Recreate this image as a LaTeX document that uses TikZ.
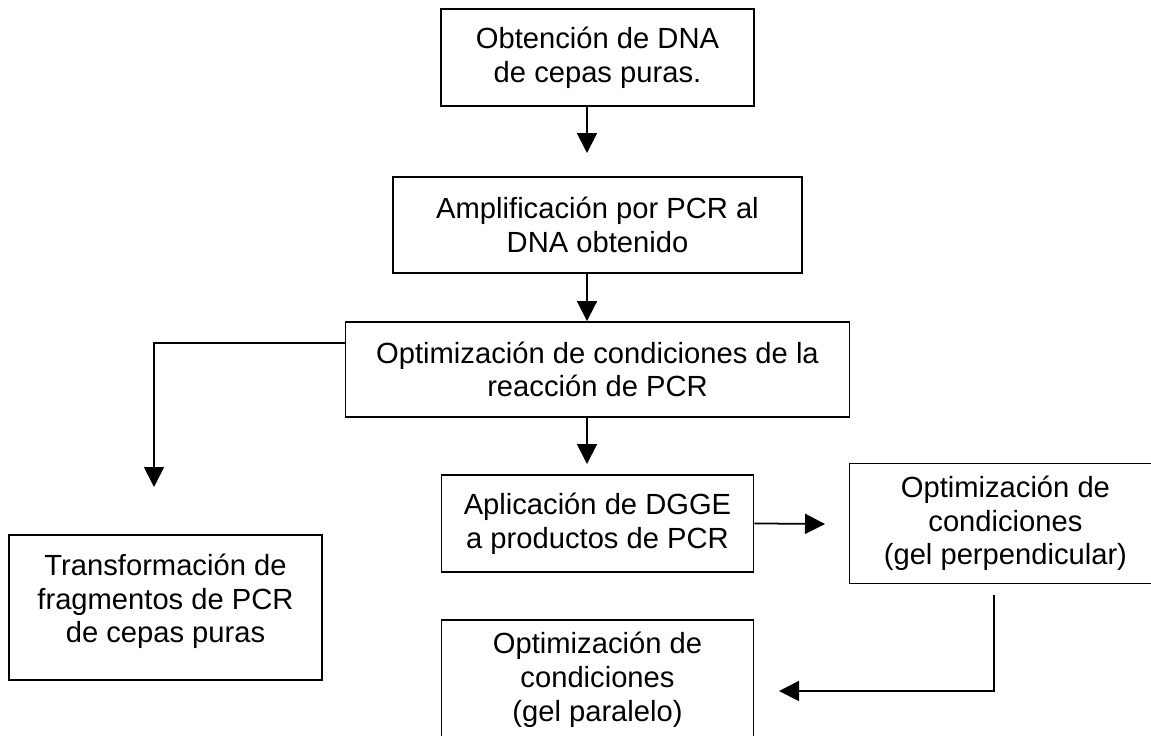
\documentclass[tikz,border=0pt]{standalone}
\usepackage{fontspec}
\setmainfont{Liberation Sans}
\usetikzlibrary{positioning,arrows.meta}

\begin{document}
\begin{tikzpicture}[
  x=0.02cm, y=-0.02cm,
  block/.style={rectangle, draw, line width=1pt, inner sep=0pt, align=center, font=\fontsize{16.6}{19.2}\selectfont},
  arr/.style={-{Triangle[length=0.4cm,width=0.4cm]}, line width=1pt},
  node distance=3cm
]
\useasboundingbox (0,0) rectangle (1151,735);
\clip (0,0) rectangle (1151,735);

\node[block, minimum width=6.26cm, minimum height=1.94cm] (dna) at (597.5,57.5) {Obtención de DNA\\de cepas puras.};
\node[block, below of=dna, node distance=3.35cm, minimum width=8.18cm, minimum height=1.92cm] (pcr) {Amplificación por PCR al\\DNA obtenido};
\node[block, below of=pcr, node distance=2.89cm, minimum width=10.08cm, minimum height=1.9cm] (cond) {Optimización de condiciones de la\\reacción de PCR};
\node[block, below of=cond, node distance=3.08cm, minimum width=6.24cm, minimum height=1.94cm] (dgge) {Aplicación de DGGE\\a productos de PCR};
\node[block, right of=dgge, node distance=8.16cm, minimum width=6.24cm, minimum height=2.4cm] (perp) {Optimización de\\condiciones\\(gel perpendicular)};
\node[block, below of=dgge, node distance=3.13cm, minimum width=6.24cm, minimum height=2.4cm] (para) {Optimización de\\condiciones\\(gel paralelo)};
\node[block, text depth=0.36cm, minimum width=6.26cm, minimum height=2.9cm] (transf) at (165.5,607.5) {Transformación de\\fragmentos de PCR\\de cepas puras};

\coordinate (col) at (587,0);
\coordinate (t1) at (587,153);
\coordinate (t3) at (154,487);
\coordinate (t4) at (587,464);
\coordinate (t5) at (825,524);
\coordinate (s6) at (994,595);
\coordinate (t6) at (779,691);

\draw[arr] (dna.south -| col) -- (t1);
\draw[arr] (pcr.south -| col) -- (cond.north -| col);
\draw[arr] ([yshift=0.53cm]cond.west) -| (t3);
\draw[arr] (cond.south -| col) -- (t4);
\draw[arr] (dgge.east) -- (t5);
\draw[arr] (s6) |- (t6);
\end{tikzpicture}
\end{document}
